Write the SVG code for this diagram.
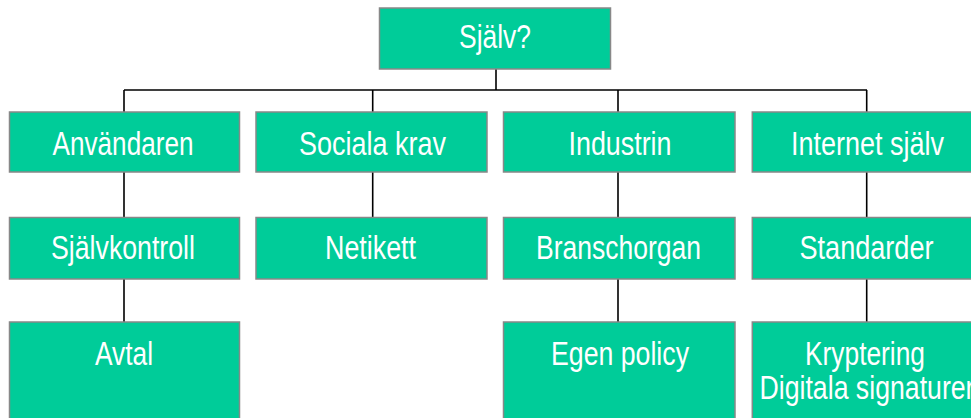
<svg xmlns="http://www.w3.org/2000/svg" width="971" height="418" viewBox="0 0 971 418">
<style>
.box{fill:#00CC99;stroke:#888888;stroke-width:1.5}
.t{font-family:"Liberation Sans",Arial,sans-serif;font-size:34px;fill:#ffffff;text-anchor:middle}
.c{stroke:#000000;stroke-width:1.6;fill:none}
</style>
<rect width="971" height="418" fill="#ffffff"/>
<g id="connectors">
<path class="c" d="M496,69V90M124,90H867M124,90V112M372.7,90V112M618,90V112M866.7,90V112"/>
<path class="c" d="M124,172V217.5M372.7,172V217.5M618,172V217.5M866.7,172V217.5"/>
<path class="c" d="M124,279V322M618,279V322M866.7,279V322"/>
</g>
<g id="n-sjalv"><rect class="box" x="379.5" y="8" width="231" height="61"/><text class="t" x="495" y="48" textLength="72" lengthAdjust="spacingAndGlyphs">Själv?</text></g>
<g id="n-anvandaren"><rect class="box" x="9.5" y="112" width="230" height="60"/><text class="t" x="123" y="155" textLength="141" lengthAdjust="spacingAndGlyphs">Användaren</text></g>
<g id="n-sociala"><rect class="box" x="256" y="112" width="231" height="60"/><text class="t" x="372.5" y="155" textLength="147" lengthAdjust="spacingAndGlyphs">Sociala krav</text></g>
<g id="n-industrin"><rect class="box" x="503.5" y="112" width="231.5" height="60"/><text class="t" x="620" y="155" textLength="103" lengthAdjust="spacingAndGlyphs">Industrin</text></g>
<g id="n-internet"><rect class="box" x="752.3" y="112" width="231" height="60"/><text class="t" x="867.5" y="155" textLength="153" lengthAdjust="spacingAndGlyphs">Internet själv</text></g>
<g id="n-sjalvkontroll"><rect class="box" x="9.5" y="217.5" width="230" height="61.5"/><text class="t" x="123" y="259" textLength="144" lengthAdjust="spacingAndGlyphs">Självkontroll</text></g>
<g id="n-netikett"><rect class="box" x="256" y="217.5" width="231" height="61.5"/><text class="t" x="370.5" y="259" textLength="91" lengthAdjust="spacingAndGlyphs">Netikett</text></g>
<g id="n-branschorgan"><rect class="box" x="503.5" y="217.5" width="231.5" height="61.5"/><text class="t" x="618.5" y="259" textLength="165" lengthAdjust="spacingAndGlyphs">Branschorgan</text></g>
<g id="n-standarder"><rect class="box" x="752.3" y="217.5" width="231" height="61.5"/><text class="t" x="866.5" y="259" textLength="134" lengthAdjust="spacingAndGlyphs">Standarder</text></g>
<g id="n-avtal"><rect class="box" x="9.5" y="322" width="230" height="110"/><text class="t" x="124" y="365" textLength="58" lengthAdjust="spacingAndGlyphs">Avtal</text></g>
<g id="n-egenpolicy"><rect class="box" x="503.5" y="322" width="231.5" height="110"/><text class="t" x="620" y="365" textLength="138" lengthAdjust="spacingAndGlyphs">Egen policy</text></g>
<g id="n-kryptering"><rect class="box" x="752.3" y="322" width="231" height="110"/><text class="t" x="865" y="365" textLength="120" lengthAdjust="spacingAndGlyphs">Kryptering</text><text class="t" x="867" y="399" textLength="215" lengthAdjust="spacingAndGlyphs">Digitala signaturer</text></g>
</svg>
